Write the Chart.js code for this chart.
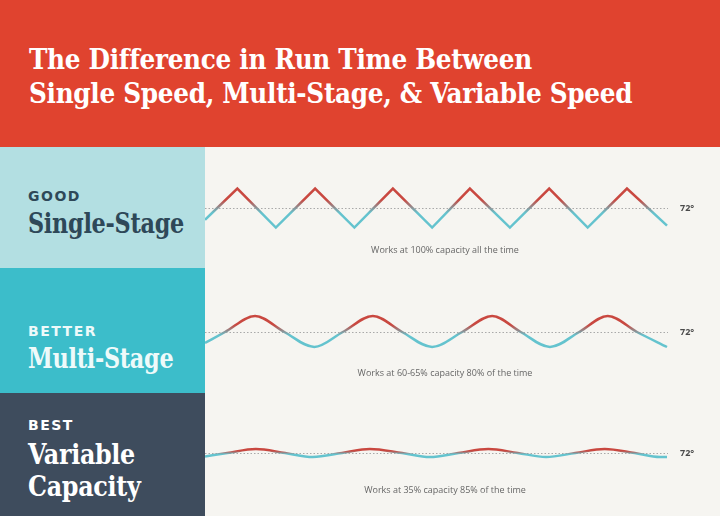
<!DOCTYPE html>
<html>
<head>
<meta charset="utf-8">
<script src="https://cdn.jsdelivr.net/npm/chart.js@4.4.1/dist/chart.umd.min.js"></script>
<style>
  html, body { margin: 0; padding: 0; }
  body { width: 720px; height: 516px; position: relative; overflow: hidden; background: #f6f5f1; }
  #header { position: absolute; left: 0; top: 0; width: 720px; height: 147px; background: #e0432f; }
  #header h1 {
    position: absolute; left: 29px; top: 42px; margin: 0; white-space: nowrap;
    font-family: "DejaVu Serif Condensed", "DejaVu Serif", serif; font-stretch: condensed;
    font-weight: bold; font-size: 27.5px; line-height: 34px; color: #fff; letter-spacing: -0.3px;
  }
  .panel { position: absolute; left: 0; width: 205px; }
  .panel .tag { position: absolute; left: 28px; font-family: "DejaVu Sans", sans-serif; font-weight: bold; font-size: 14px; line-height: 16px; letter-spacing: 1.5px; }
  .panel .name { position: absolute; left: 28px; white-space: nowrap; transform-origin: left top; font-family: "DejaVu Serif Condensed", "DejaVu Serif", serif; font-stretch: condensed; font-weight: bold; font-size: 27px; line-height: 32px; letter-spacing: -0.3px; }
  #p1 { top: 147px; height: 121px; background: #b3dfe2; color: #2e4858; }
  #p2 { top: 268px; height: 125px; background: #3cbdca; color: #eefafa; }
  #p3 { top: 393px; height: 123px; background: #3e4c5d; color: #fff; }
  canvas.row { position: absolute; left: 205px; }
</style>
</head>
<body>
<div id="header"><h1>The Difference in Run Time Between<br>Single Speed, Multi-Stage, &amp; Variable Speed</h1></div>
<div class="panel" id="p1"><div class="tag" style="top:41px">GOOD</div><div class="name" style="top:61px;transform:scaleX(0.92)">Single-Stage</div></div>
<div class="panel" id="p2"><div class="tag" style="top:55px">BETTER</div><div class="name" style="top:75px;transform:scaleX(0.92)">Multi-Stage</div></div>
<div class="panel" id="p3"><div class="tag" style="top:24px">BEST</div><div class="name" style="top:46px;transform:scaleX(0.98)">Variable<br>Capacity</div></div>
<canvas class="row" id="row1" width="515" height="121" style="top:147px"></canvas>
<canvas class="row" id="row2" width="515" height="125" style="top:268px"></canvas>
<canvas class="row" id="row3" width="515" height="123" style="top:393px"></canvas>
<script>
const setPoint = 72;

const singleTime = [0, 4.2, 9.2, 14.3, 19.4, 24.4, 29.5, 34.4, 39.6, 44.7, 49.7, 54.8, 60];
const singleTemp = [70.8, 74, 70, 74, 70, 74, 70, 74, 70, 74, 70, 74, 70.2];

const multiTime = [0, 2.6, 6.5, 10.3, 14.2, 17.9, 21.8, 25.6, 29.5, 33.4, 37.3, 41.0, 44.8, 48.6, 52.3, 56.1, 60];
const multiTemp = [70.9, 72, 73.6, 72, 70.5, 72, 73.6, 72, 70.5, 72, 73.6, 72, 70.5, 72, 73.6, 72, 70.5];

const variableTime = [0, 2.9, 6.6, 10.4, 14.0, 17.8, 21.4, 25.6, 29.2, 32.9, 36.8, 40.6, 44.3, 48.1, 51.9, 55.8, 59.1, 60];
const variableTemp = [71.65, 72, 72.4, 72, 71.6, 72, 72.4, 72, 71.6, 72, 72.4, 72, 71.6, 72, 72.4, 72, 71.6, 71.6];

const captions = [
  'Works at 100% capacity all the time',
  'Works at 60-65% capacity 80% of the time',
  'Works at 35% capacity 85% of the time'
];

const hotColor = '#c94840';
const coldColor = '#64c3ce';

const refLine = {
  id: 'refLine',
  beforeDatasetsDraw(chart, args, opts) {
    const { ctx, chartArea, scales } = chart;
    const y = Math.round(scales.y.getPixelForValue(setPoint)) + 0.5;
    ctx.save();
    ctx.strokeStyle = '#a9a9a9';
    ctx.lineWidth = 1;
    ctx.setLineDash([1.5, 2]);
    ctx.beginPath();
    ctx.moveTo(chartArea.left, y);
    ctx.lineTo(chartArea.right + 1, y);
    ctx.stroke();
    ctx.restore();
  },
  afterDatasetsDraw(chart, args, opts) {
    const { ctx, chartArea, scales } = chart;
    const y = scales.y.getPixelForValue(setPoint);
    ctx.save();
    ctx.fillStyle = '#4a4a4a';
    ctx.font = 'bold 9px "Open Sans", sans-serif';
    ctx.textBaseline = 'middle';
    ctx.fillText(setPoint + '°', chartArea.right + 13, y);
    ctx.fillStyle = '#666';
    ctx.font = '9px "Open Sans", sans-serif';
    ctx.textAlign = 'center';
    ctx.fillText(opts.caption, 240, opts.captionY);
    ctx.restore();
  }
};

function waveColor(context, hi, lo) {
  const { chart } = context;
  if (!chart.chartArea) return hotColor;
  const y = chart.scales.y;
  const top = y.getPixelForValue(hi);
  const bottom = y.getPixelForValue(lo);
  const g = chart.ctx.createLinearGradient(0, top - 1, 0, bottom + 1);
  g.addColorStop(0, hotColor);
  g.addColorStop(0.3, hotColor);
  g.addColorStop(0.62, coldColor);
  g.addColorStop(1, coldColor);
  return g;
}

function makeRow(id, times, temps, yMin, yMax, smooth, caption, captionY) {
  const hi = Math.max(...temps);
  const lo = Math.min(...temps);
  return new Chart(document.getElementById(id), {
    type: 'line',
    data: {
      datasets: [{
        data: times.map((t, i) => ({ x: t, y: temps[i] })),
        borderColor: (ctx) => waveColor(ctx, hi, lo),
        borderWidth: 2.5,
        pointRadius: 0,
        fill: false,
        clip: false,
        cubicInterpolationMode: smooth ? 'monotone' : 'default',
        tension: 0
      }]
    },
    options: {
      responsive: false,
      animation: false,
      layout: { padding: { left: 0, right: 53, top: 0, bottom: 0 } },
      scales: {
        x: { type: 'linear', min: 0, max: 60, display: false },
        y: { min: yMin, max: yMax, display: false }
      },
      plugins: {
        legend: { display: false },
        tooltip: { enabled: false },
        refLine: { caption: caption, captionY: captionY }
      }
    },
    plugins: [refLine]
  });
}

makeRow('row1', singleTime, singleTemp, 65.85, 78.26, false, captions[0], 103);
makeRow('row2', multiTime, multiTemp, 65.9, 78.4, true, captions[1], 105);
makeRow('row3', variableTime, variableTemp, 65.7, 78, true, captions[2], 97);
</script>
</body>
</html>
